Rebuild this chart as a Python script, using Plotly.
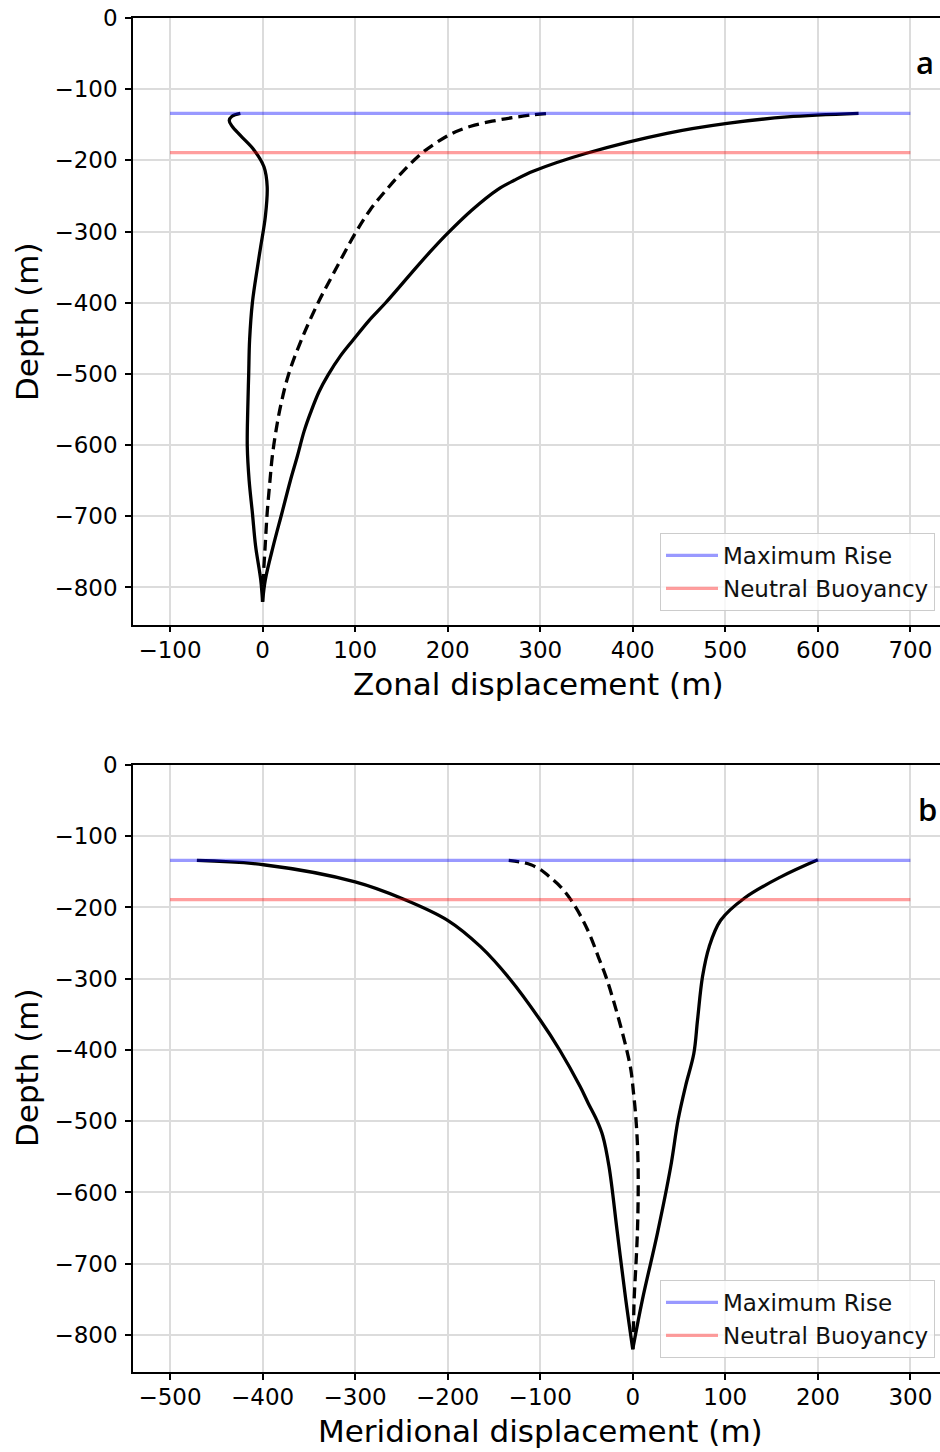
import plotly.graph_objects as go

# ---- Panel a: zonal displacement profiles (depth in m, displacement in m) ----
zonal_c1_depth = [-820, -789, -742, -695, -650, -602, -550, -501, -452, -400, -350, -321,
                  -279, -237, -209, -185, -165, -152, -144, -138, -134]
zonal_c1_x = [0, -2, -7.5, -11, -14.5, -16.5, -16, -15, -14, -11, -5.5, -2,
              3, 5, 1.5, -9.5, -24, -33, -36, -33, -24]

zonal_c2_depth = [-820, -789, -742, -695, -650, -616, -580, -545, -501, -452, -400, -358,
                  -305, -270, -241, -215, -190, -175, -162, -152, -145, -140, -136, -134]
zonal_c2_x = [0, 0.7, 2.8, 5, 8, 10.5, 14.5, 19.5, 28, 42, 60, 77,
              99, 116, 134, 152, 172, 188, 205, 225, 248, 270, 292, 308]

zonal_c3_depth = [-820, -789, -742, -695, -650, -616, -580, -554, -525, -501, -475, -452,
                  -425, -400, -358, -330, -305, -270, -241, -228, -215, -190, -162, -148,
                  -139, -134]
zonal_c3_x = [0, 3, 11.5, 21, 30, 37.5, 45, 52, 61, 71, 84, 98,
              115, 133, 161, 180, 198, 226, 254, 272, 293, 350, 437, 502,
              567, 644]

# ---- Panel b: meridional displacement profiles ----
merid_c1_depth = [-820, -750, -657, -564, -520, -498, -475, -451, -400, -358, -300, -255,
                  -218, -188, -164, -140, -134]
merid_c1_x = [0, -7.6, -16.6, -25.6, -32.5, -39, -48, -57, -79, -100, -133, -164.5,
              -200, -248, -300, -399, -471]

merid_c2_depth = [-820, -785, -750, -700, -657, -610, -564, -525, -489, -460, -428, -400,
                  -367, -330, -297, -270, -241, -215, -189, -171, -158, -147, -140, -136,
                  -134]
merid_c2_x = [0, 0.8, 1.5, 3.5, 5, 5.8, 5.8, 4.8, 3, 0.8, -2, -6.5,
              -13, -21, -29, -37, -45.5, -55, -67, -78, -89, -99.6, -110, -122, -134]

merid_c3_depth = [-820, -750, -657, -564, -498, -451, -405, -358, -297, -255, -218,
                  -187, -157, -133]
merid_c3_x = [0, 10.5, 26.7, 41, 49, 57, 66, 70, 75.4, 82.6, 95,
              120.5, 160, 200]

# Reference levels
max_rise_depth = -134
neutral_depth = -189
zonal_extent = [-100, 700]
merid_extent = [-500, 300]

zonal_ticks = [-100, 0, 100, 200, 300, 400, 500, 600, 700]
merid_ticks = [-500, -400, -300, -200, -100, 0, 100, 200, 300]
depth_ticks = [0, -100, -200, -300, -400, -500, -600, -700, -800]

FONT = "DejaVu Sans"
BLUE = "rgba(0,0,255,0.4)"
RED = "rgba(255,0,0,0.38)"

fig = go.Figure()


def add_profiles(curves, xa, ya):
    for depth, xs, dash in curves:
        fig.add_trace(go.Scatter(
            x=xs, y=depth, mode="lines", xaxis=xa, yaxis=ya, showlegend=False,
            line=dict(color="black", width=3.3, dash=dash, shape="spline", smoothing=1.0),
            hoverinfo="skip"))


def add_levels(extent, xa, ya, legend):
    fig.add_trace(go.Scatter(
        x=extent, y=[max_rise_depth, max_rise_depth], mode="lines", xaxis=xa, yaxis=ya,
        name="Maximum Rise", legend=legend, line=dict(color=BLUE, width=3.2)))
    fig.add_trace(go.Scatter(
        x=extent, y=[neutral_depth, neutral_depth], mode="lines", xaxis=xa, yaxis=ya,
        name="Neutral Buoyancy", legend=legend, line=dict(color=RED, width=3.2)))


add_profiles([(zonal_c1_depth, zonal_c1_x, "solid"),
              (zonal_c2_depth, zonal_c2_x, "11px,6px"),
              (zonal_c3_depth, zonal_c3_x, "solid")], "x", "y")
add_levels(zonal_extent, "x", "y", "legend")

add_profiles([(merid_c1_depth, merid_c1_x, "solid"),
              (merid_c2_depth, merid_c2_x, "11px,6px"),
              (merid_c3_depth, merid_c3_x, "solid")], "x2", "y2")
add_levels(merid_extent, "x2", "y2", "legend2")

W, H = 940, 1452
L, R, T, B = 133, 0, 18, 80
plot_h = H - T - B


def py(pix):
    return (H - B - pix) / plot_h


def px(pix):
    return (pix - L) / (W - L - R)


axis_common = dict(
    showgrid=True, gridcolor="#dcdcdc", gridwidth=1.5,
    showline=True, linecolor="black", linewidth=1.5,
    ticks="outside", ticklen=6, tickwidth=1.5, tickcolor="black",
    tickfont=dict(family=FONT, size=23, color="black"),
    zeroline=False,
)

legend_style = dict(
    xanchor="right", yanchor="bottom",
    bgcolor="rgba(255,255,255,0.8)", bordercolor="#cccccc", borderwidth=1,
    itemwidth=52,
    font=dict(family=FONT, size=23, color="#111111"),
)

fig.update_layout(
    width=W, height=H,
    margin=dict(l=L, r=R, t=T, b=B),
    paper_bgcolor="white", plot_bgcolor="white",
    xaxis=dict(axis_common, domain=[0, 1], anchor="y", range=[-140, 732],
               tickvals=zonal_ticks, mirror=True, ticklabelstandoff=-2),
    yaxis=dict(axis_common, domain=[py(624.5), 1], anchor="x", range=[-852, 0],
               tickvals=depth_ticks, ticklabelstandoff=3),
    xaxis2=dict(axis_common, domain=[0, 1], anchor="y2", range=[-540, 332],
                tickvals=merid_ticks, mirror=True, ticklabelstandoff=-2),
    yaxis2=dict(axis_common, domain=[0, py(765)], anchor="x2", range=[-852, 0],
                tickvals=depth_ticks, ticklabelstandoff=3),
    legend=dict(legend_style, x=px(935), y=py(611)),
    legend2=dict(legend_style, x=px(935), y=py(1358)),
    showlegend=True,
)

title_font = dict(family=FONT, size=31, color="black")
notes = [
    ("Zonal displacement (m)", 538, 684, 0),
    ("Meridional displacement (m)", 540, 1431, 0),
    ("Depth (m)", 27, 322, -90),
    ("Depth (m)", 27, 1068, -90),
]
for text, xp, yp, ang in notes:
    fig.add_annotation(text=text, x=px(xp), y=py(yp), xref="paper", yref="paper",
                       showarrow=False, textangle=ang, font=title_font,
                       xanchor="center", yanchor="middle")

for text, xp, yp in [("a", 925, 62), ("b", 927, 809)]:
    fig.add_annotation(text=text, x=px(xp), y=py(yp), xref="paper", yref="paper",
                       showarrow=False,
                       font=dict(family="Open Sans", size=31, color="black", weight=600),
                       xanchor="center", yanchor="middle")

fig.write_html("out.html")
